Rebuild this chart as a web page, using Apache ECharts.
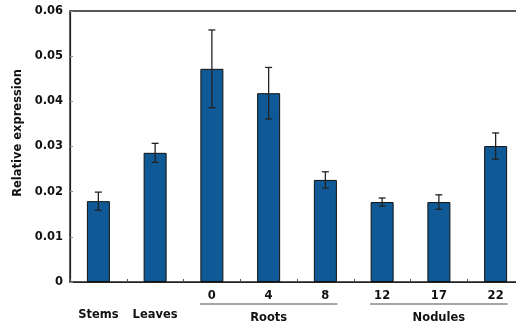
<!DOCTYPE html>
<html><head><meta charset="utf-8">
<script src="https://cdn.jsdelivr.net/npm/echarts@6/dist/echarts.min.js"></script>
<style>html,body{margin:0;padding:0;background:#fff}#c{width:516px;height:326px}</style>
</head><body><div id="c"></div>
<script>
const categories = ['Stems','Leaves','0','4','8','12','17','22'];
const values = [0.0179, 0.0286, 0.0472, 0.0418, 0.0226, 0.0177, 0.0177, 0.0301];
const errors = [0.0020, 0.0021, 0.0086, 0.0057, 0.0018, 0.0009, 0.0016, 0.0029];
const yTicks = [0, 0.01, 0.02, 0.03, 0.04, 0.05, 0.06];
const groups = [
  {name: 'Roots', from: 2, to: 4},
  {name: 'Nodules', from: 5, to: 7}
];
const yTitle = 'Relative expression';

const font = 'DejaVu Sans, Verdana, sans-serif';
const chart = echarts.init(document.getElementById('c'), null, {renderer: 'canvas'});
const errData = values.map((v, i) => [i, v - errors[i], v + errors[i]]);

chart.setOption({
  animation: false,
  grid: {left: 70, top: 11, width: 454, bottom: 44, outerBoundsMode: 'none', containLabel: false,
         show: true, borderColor: '#222', borderWidth: 1.4, backgroundColor: 'transparent'},
  xAxis: {
    type: 'category', data: categories,
    axisLine: {lineStyle: {color: '#222', width: 1.2}},
    axisTick: {show: true, inside: true, length: 3, lineStyle: {color: '#555'}},
    axisLabel: {
      interval: 0, margin: 8, color: '#111', fontFamily: font, fontWeight: 'bold', fontSize: 11.5,
      formatter: function (v, i) { return i < 2 ? '{low|' + v + '}' : v; },
      rich: {low: {padding: [19, 0, 0, 0], color: '#111', fontFamily: font, fontWeight: 'bold', fontSize: 11.5}}
    }
  },
  yAxis: {
    type: 'value', min: 0, max: 0.06, interval: 0.01,
    axisLine: {show: true, lineStyle: {color: '#222', width: 1.2}},
    axisTick: {show: true, inside: true, length: 3, lineStyle: {color: '#888'}},
    splitLine: {show: false},
    axisLabel: {margin: 7, color: '#111', fontFamily: font, fontWeight: 'bold', fontSize: 11.5,
      formatter: function (v) { const t = yTicks.find(x => Math.abs(x - v) < 1e-9); return t === 0 ? '0' : t.toFixed(2); }}
  },
  series: [
    {type: 'bar', data: values, barWidth: 23,
     itemStyle: {color: '#0f5a96', borderColor: '#111', borderWidth: 1}},
    {type: 'custom', data: errData, z: 10,
     renderItem: function (params, api) {
       const x = api.value(0);
       const lo = api.coord([x, api.value(1)]);
       const hi = api.coord([x, api.value(2)]);
       const w = 3.5;
       const st = {stroke: '#222', lineWidth: 1.3};
       return {type: 'group', children: [
         {type: 'line', shape: {x1: lo[0], y1: lo[1], x2: hi[0], y2: hi[1]}, style: st},
         {type: 'line', shape: {x1: hi[0] - w, y1: hi[1], x2: hi[0] + w, y2: hi[1]}, style: st},
         {type: 'line', shape: {x1: lo[0] - w, y1: lo[1], x2: lo[0] + w, y2: lo[1]}, style: st}
       ]};
     }}
  ]
});

const gfx = [];
const y0 = chart.convertToPixel({yAxisIndex: 0}, 0);
groups.forEach(g => {
  const a = chart.convertToPixel({xAxisIndex: 0}, categories[g.from]);
  const b = chart.convertToPixel({xAxisIndex: 0}, categories[g.to]);
  const ly = y0 + 22;
  gfx.push({type: 'line', shape: {x1: a - 12, y1: ly, x2: b + 12, y2: ly}, style: {stroke: '#888', lineWidth: 1.5}});
  gfx.push({type: 'text', x: (a + b) / 2, y: ly + 14, style: {text: g.name, fill: '#111', font: 'bold 11.5px ' + font, textAlign: 'center', textVerticalAlign: 'middle'}});
});
gfx.push({type: 'text', x: 18, y: 133, rotation: Math.PI / 2,
  style: {text: yTitle, fill: '#111', font: 'bold 11.5px ' + font, textAlign: 'center', textVerticalAlign: 'middle'}});
chart.setOption({graphic: gfx});
</script></body></html>
